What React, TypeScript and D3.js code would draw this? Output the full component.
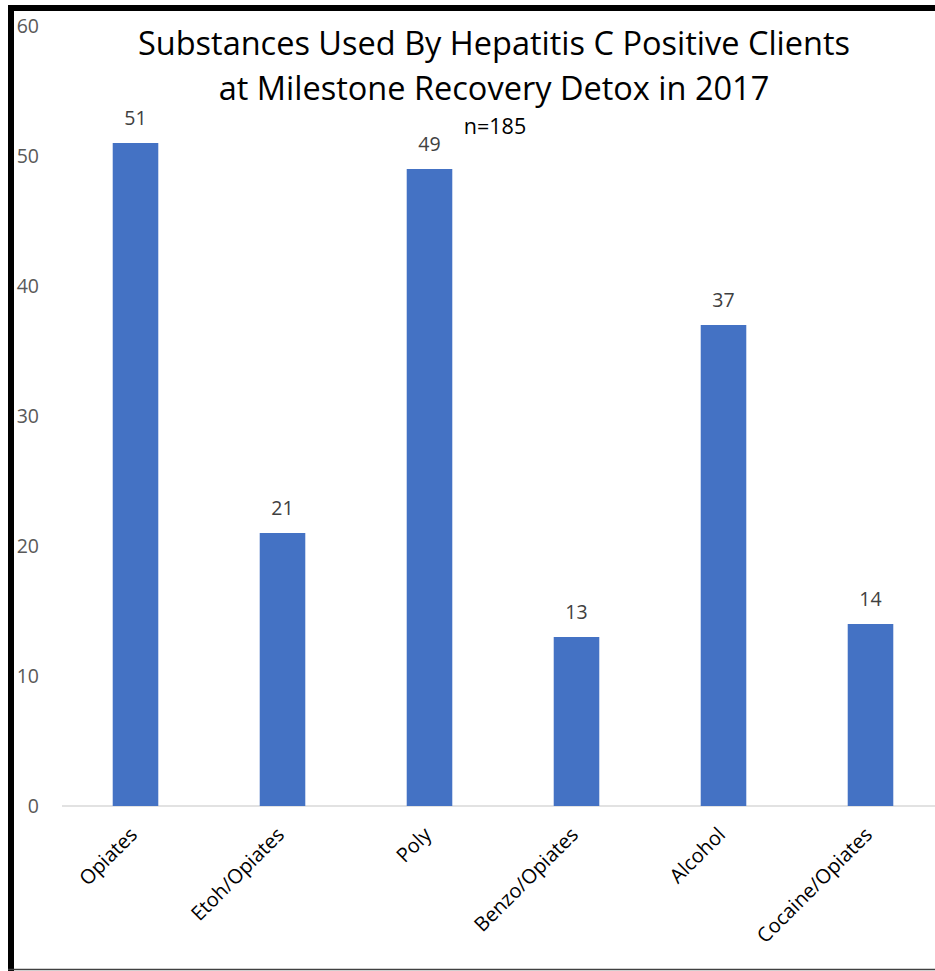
import React from "react";
import * as d3 from "d3";

const categories = ["Opiates", "Etoh/Opiates", "Poly", "Benzo/Opiates", "Alcohol", "Cocaine/Opiates"];
const values = [51, 21, 49, 13, 37, 14];
const yTicks = [0, 10, 20, 30, 40, 50, 60];
const titleLines = ["Substances Used By Hepatitis C Positive Clients", "at Milestone Recovery Detox in 2017"];
const subtitle = "n=185";

const W = 935;
const H = 971;
const FONT = "'Open Sans', 'Noto Sans', sans-serif";

export default function App() {
  const x = d3.scaleBand<string>().domain(categories).range([62, 944]).paddingInner(0.69).paddingOuter(0.345);
  const y = d3.scaleLinear().domain([0, 60]).range([806, 26]);
  return (
    <svg width={W} height={H} style={{ position: "absolute", left: 0, top: 0, display: "block" }}>
      <rect x={0} y={0} width={W} height={H} fill="#fff" />
      {/* frame */}
      <line x1={11} y1={8} x2={W} y2={8} stroke="#000" strokeWidth={6} />
      <line x1={11} y1={5} x2={11} y2={H} stroke="#000" strokeWidth={6} />
      <line x1={8} y1={969.5} x2={W} y2={969.5} stroke="#404040" strokeWidth={1.5} />
      {/* y tick labels */}
      {yTicks.map((t) => (
        <text key={t} x={39} y={y(t)} dy="0.35em" textAnchor="end" fontFamily={FONT} fontSize={19.5} fill="#595959">
          {t}
        </text>
      ))}
      {/* baseline */}
      <line x1={62} y1={y(0)} x2={W} y2={y(0)} stroke="#d9d9d9" strokeWidth={1.5} />
      {/* bars */}
      {categories.map((c, i) => (
        <rect key={c} x={x(c)} y={y(values[i])} width={x.bandwidth()} height={y(0) - y(values[i])} fill="#4472c4" />
      ))}
      {/* data labels */}
      {categories.map((c, i) => (
        <text key={c + "l"} x={(x(c) as number) + x.bandwidth() / 2} y={y(values[i]) - 18} textAnchor="middle" fontFamily={FONT} fontSize={19.5} fill="#404040">
          {values[i]}
        </text>
      ))}
      {/* x labels */}
      {categories.map((c) => {
        const cx = (x(c) as number) + x.bandwidth() / 2 + 3;
        const cy = 836;
        return (
          <text key={c + "x"} transform={`translate(${cx},${cy}) rotate(-45)`} textAnchor="end" fontFamily={FONT} fontSize={20} fill="#000">
            {c}
          </text>
        );
      })}
      {/* title */}
      {titleLines.map((t, i) => (
        <text key={t} x={494} y={55 + i * 45} textAnchor="middle" fontFamily={FONT} fontSize={32.5} fill="#000">
          {t}
        </text>
      ))}
      <text x={495} y={134} textAnchor="middle" fontFamily={FONT} fontSize={21.5} fill="#000">
        {subtitle}
      </text>
    </svg>
  );
}
